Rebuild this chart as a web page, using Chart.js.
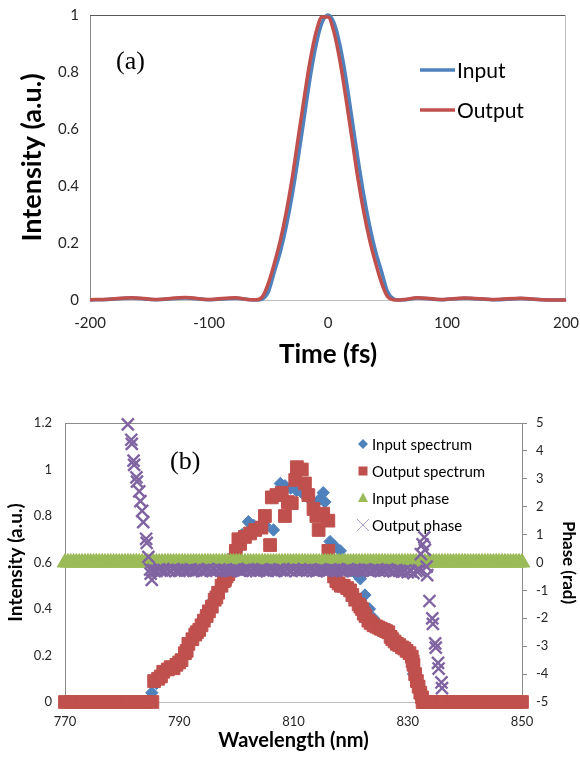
<!DOCTYPE html>
<html>
<head>
<meta charset="utf-8">
<script src="https://cdn.jsdelivr.net/npm/chart.js@4.4.1/dist/chart.umd.min.js"></script>
<style>
  html, body { margin: 0; padding: 0; background: #fff; }
  body { width: 580px; height: 760px; position: relative; overflow: hidden; }
  .box { position: absolute; left: 0; width: 580px; }
  #boxA { top: 0; height: 375px; }
  #boxB { top: 380px; height: 380px; }
</style>
</head>
<body>
<div class="box" id="boxA"><canvas id="pulseChart"></canvas></div>
<div class="box" id="boxB"><canvas id="spectrumChart"></canvas></div>
<script>
/* ================= DATA (a) : pulse in time ================= */
const timeFs = [-200, -185, -165, -145, -120, -100, -78, -65, -60, -55,
  -50, -45, -40, -35, -30, -25, -20, -15, -10, -5,
  0,
  5, 10, 15, 20, 25, 30, 35, 40, 45, 50,
  55, 60, 65, 75, 95, 115, 140, 162, 180, 200];

const inputIntensity = [0, 0.002, 0.007, 0.001, 0.007, 0.001, 0.006, 0.001, 0, 0.004,
  0.03, 0.1, 0.17, 0.26, 0.37, 0.5, 0.64, 0.78, 0.895, 0.973,
  1,
  0.973, 0.895, 0.78, 0.64, 0.5, 0.37, 0.26, 0.17, 0.1, 0.03,
  0.004, 0, 0.001, 0.007, 0.001, 0.006, 0.001, 0.005, 0.001, 0];

const outputIntensity = [0.001, 0.003, 0.008, 0.002, 0.009, 0.002, 0.008, 0.001, 0.001, 0.012,
  0.06, 0.13, 0.21, 0.31, 0.43, 0.57, 0.71, 0.84, 0.94, 0.993,
  0.993,
  0.94, 0.84, 0.71, 0.57, 0.43, 0.31, 0.21, 0.13, 0.06, 0.012,
  0.001, 0, 0.002, 0.008, 0.002, 0.007, 0.002, 0.006, 0.001, 0];

const timeTicks = [-200, -100, 0, 100, 200];

/* ================= DATA (b) : spectrum and phase ================= */
const inWl = [770, 774, 778, 782, 784, 784.8, 785.2, 786, 787, 788,
  789, 790, 791, 792, 793, 794, 795, 796, 797, 798,
  799, 800, 801, 802.1, 803, 804, 805, 806.5, 807, 807.7,
  808.5, 809.5, 810.5, 811.5, 812.5, 813.5, 814.5, 815.2, 815.5, 816.4,
  817.2, 818.2, 819, 820, 821, 821.7, 822.5, 823.3, 824, 825,
  826, 827, 828, 829, 830, 831, 832, 832.5, 834, 838,
  842, 846, 850];
const inSpec = [0, 0, 0, 0, 0, 0.01, 0.04, 0.08, 0.12, 0.15,
  0.16, 0.18, 0.21, 0.26, 0.30, 0.34, 0.39, 0.44, 0.49, 0.54,
  0.60, 0.65, 0.72, 0.775, 0.76, 0.74, 0.76, 0.74, 0.90, 0.94,
  0.93, 0.92, 0.91, 0.90, 0.88, 0.86, 0.87, 0.90, 0.86, 0.69,
  0.67, 0.65, 0.61, 0.58, 0.55, 0.53, 0.46, 0.40, 0.36, 0.33,
  0.31, 0.28, 0.25, 0.23, 0.20, 0.12, 0.04, 0.01, 0, 0,
  0, 0, 0];

const outWl = [770, 771, 772, 773, 774, 775, 776, 777, 778, 779,
  780, 781, 782, 783, 784, 785.3, 785.6, 786.3, 787.2, 788,
  789, 790, 790.4, 791, 791.6, 792.3, 793.1, 793.9, 794.8, 795.7,
  796.2, 796.8, 797.4, 798, 798.6, 799.1, 799.5, 799.9, 800.35, 800.65,
  801.5, 802.4, 803.3, 804.4, 805, 805.9, 806.2, 807, 807.95, 808.5,
  809, 809.7, 810.3, 810.6, 811.45, 812, 812.6, 813.5, 814, 814.4,
  815.2, 816.1, 816.1, 816.6, 817.1, 817.9, 818.8, 819.9, 820.8, 821.4,
  822, 822.6, 823.1, 824, 824.9, 825.8, 826.6, 827.3, 828.1, 829,
  829.8, 830.7, 831, 831.3, 831.6, 831.9, 832.2, 832.5, 832.6, 833,
  834, 835, 836, 837, 838, 839, 840, 841, 842, 843,
  844, 845, 846, 847, 848, 849, 850];
const outSpec = [0, 0, 0, 0, 0, 0, 0, 0, 0, 0,
  0, 0, 0, 0, 0, 0, 0.09, 0.10, 0.13, 0.14,
  0.145, 0.17, 0.18, 0.21, 0.25, 0.27, 0.30, 0.33, 0.37, 0.41,
  0.44, 0.47, 0.50, 0.525, 0.55, 0.58, 0.61, 0.65, 0.70, 0.68,
  0.71, 0.725, 0.74, 0.75, 0.80, 0.675, 0.88, 0.89, 0.90, 0.80,
  0.86, 0.855, 0.955, 1.01, 1.0, 0.94, 0.89, 0.83, 0.80, 0.74,
  0.81, 0.78, 0.65, 0.58, 0.54, 0.51, 0.50, 0.48, 0.44, 0.42,
  0.40, 0.37, 0.35, 0.33, 0.32, 0.31, 0.30, 0.27, 0.25, 0.235,
  0.22, 0.195, 0.16, 0.12, 0.09, 0.066, 0.04, 0.02, 0, 0,
  0, 0, 0, 0, 0, 0, 0, 0, 0, 0,
  0, 0, 0, 0, 0, 0, 0];

// more output-spectrum samples read along the two slopes
const outWlSlopes = [786.8, 788.5, 789.5, 791.3, 792.8, 793.5, 794.3, 795.2, 796.5, 797.8,
  798.3, 817.5, 818.3, 819.4, 820.3, 821.7, 822.3, 823.5, 824.5, 825.3,
  826.2, 827, 827.7, 828.5, 829.4, 830.3, 830.85];
const outSpecSlopes = [0.11, 0.15, 0.16, 0.22, 0.29, 0.31, 0.35, 0.39, 0.45, 0.52,
  0.54, 0.52, 0.50, 0.49, 0.46, 0.41, 0.38, 0.34, 0.325, 0.315,
  0.305, 0.28, 0.26, 0.245, 0.23, 0.21, 0.175];

const inPhaseWl = [770, 770.5, 771, 771.5, 772, 772.5, 773, 773.5, 774, 774.5,
  775, 775.5, 776, 776.5, 777, 777.5, 778, 778.5, 779, 779.5,
  780, 780.5, 781, 781.5, 782, 782.5, 783, 783.5, 784, 784.5,
  785, 785.5, 786, 786.5, 787, 787.5, 788, 788.5, 789, 789.5,
  790, 790.5, 791, 791.5, 792, 792.5, 793, 793.5, 794, 794.5,
  795, 795.5, 796, 796.5, 797, 797.5, 798, 798.5, 799, 799.5,
  800, 800.5, 801, 801.5, 802, 802.5, 803, 803.5, 804, 804.5,
  805, 805.5, 806, 806.5, 807, 807.5, 808, 808.5, 809, 809.5,
  810, 810.5, 811, 811.5, 812, 812.5, 813, 813.5, 814, 814.5,
  815, 815.5, 816, 816.5, 817, 817.5, 818, 818.5, 819, 819.5,
  820, 820.5, 821, 821.5, 822, 822.5, 823, 823.5, 824, 824.5,
  825, 825.5, 826, 826.5, 827, 827.5, 828, 828.5, 829, 829.5,
  830, 830.5, 831, 831.5, 832, 832.5, 833, 833.5, 834, 834.5,
  835, 835.5, 836, 836.5, 837, 837.5, 838, 838.5, 839, 839.5,
  840, 840.5, 841, 841.5, 842, 842.5, 843, 843.5, 844, 844.5,
  845, 845.5, 846, 846.5, 847, 847.5, 848, 848.5, 849, 849.5,
  850];
const inPhase = [0, 0, 0, 0, 0, 0, 0, 0, 0, 0,
  0, 0, 0, 0, 0, 0, 0, 0, 0, 0,
  0, 0, 0, 0, 0, 0, 0, 0, 0, 0,
  0, 0, 0, 0, 0, 0, 0, 0, 0, 0,
  0, 0, 0, 0, 0, 0, 0, 0, 0, 0,
  0, 0, 0, 0, 0, 0, 0, 0, 0, 0,
  0, 0, 0, 0, 0, 0, 0, 0, 0, 0,
  0, 0, 0, 0, 0, 0, 0, 0, 0, 0,
  0, 0, 0, 0, 0, 0, 0, 0, 0, 0,
  0, 0, 0, 0, 0, 0, 0, 0, 0, 0,
  0, 0, 0, 0, 0, 0, 0, 0, 0, 0,
  0, 0, 0, 0, 0, 0, 0, 0, 0, 0,
  0, 0, 0, 0, 0, 0, 0, 0, 0, 0,
  0, 0, 0, 0, 0, 0, 0, 0, 0, 0,
  0, 0, 0, 0, 0, 0, 0, 0, 0, 0,
  0, 0, 0, 0, 0, 0, 0, 0, 0, 0,
  0];

// output phase: steep left wing, flat part, steep right wing
const outPhaseWlLeft = [781.0, 781.6, 781.7, 782.0, 782.1, 782.5, 782.6, 783.0, 783.2, 783.5,
  783.7, 784.2, 784.3, 784.6, 784.9, 785.0, 785.2];
const outPhaseLeft = [4.95, 4.4, 4.25, 3.65, 3.5, 3.05, 2.9, 2.55, 2.2, 1.85,
  1.45, 0.85, 0.7, 0.2, -0.25, -0.4, -0.62];

const outPhaseWlFlat = [785.5, 786, 786.5, 787, 787.5, 788, 788.5, 789, 789.5, 790,
  790.5, 791, 791.5, 792, 792.5, 793, 793.5, 794, 794.5, 795,
  795.5, 796, 796.5, 797, 797.5, 798, 798.5, 799, 799.5, 800,
  800.5, 801, 801.5, 802, 802.5, 803, 803.5, 804, 804.5, 805,
  805.5, 806, 806.5, 807, 807.5, 808, 808.5, 809, 809.5, 810,
  810.5, 811, 811.5, 812, 812.5, 813, 813.5, 814, 814.5, 815,
  815.5, 816, 816.5, 817, 817.5, 818, 818.5, 819, 819.5, 820,
  820.5, 821, 821.5, 822, 822.5, 823, 823.5, 824, 824.5, 825,
  825.5, 826, 826.5, 827, 827.5, 828, 828.5, 829, 829.5, 830,
  830.5, 831, 831.5, 832];
const outPhaseFlat = [-0.27, -0.30, -0.25, -0.28, -0.31, -0.26, -0.29, -0.24, -0.28, -0.30,
  -0.26, -0.29, -0.27, -0.25, -0.30, -0.28, -0.26, -0.31, -0.27, -0.24,
  -0.29, -0.27, -0.30, -0.25, -0.28, -0.26, -0.29, -0.31, -0.27, -0.25,
  -0.28, -0.30, -0.26, -0.24, -0.29, -0.27, -0.31, -0.28, -0.25, -0.27,
  -0.30, -0.26, -0.28, -0.29, -0.25, -0.27, -0.31, -0.26, -0.28, -0.24,
  -0.29, -0.27, -0.30, -0.26, -0.28, -0.25, -0.29, -0.31, -0.27, -0.26,
  -0.28, -0.30, -0.25, -0.27, -0.29, -0.26, -0.31, -0.28, -0.24, -0.27,
  -0.30, -0.28, -0.26, -0.29, -0.25, -0.27, -0.31, -0.28, -0.26, -0.30,
  -0.27, -0.29, -0.25, -0.28, -0.32, -0.27, -0.30, -0.33, -0.29, -0.35,
  -0.31, -0.38, -0.30, -0.28];

const outPhaseWlRight = [832.3, 832.6, 832.9, 833.0, 833.3, 833.4, 833.8, 834.3, 834.4, 834.8,
  834.9, 835.3, 835.4, 835.9, 836.0];
const outPhaseRight = [0.3, 0.65, 0.9, 0.45, -0.15, -0.45, -1.38, -2.0, -2.2, -2.9,
  -3.05, -3.6, -3.8, -4.3, -4.5];

/* ================= STYLE ================= */
const BLUE = "#4F81BD", RED = "#C0504D", GREEN = "#9BBB59", PURPLE = "#8064A2";
const SANS = "Lato, 'Open Sans', sans-serif";
const SERIF = "'Liberation Serif', 'DejaVu Serif', serif";
const TICK_COLOR = "#262626";

Chart.defaults.font.family = SANS;
Chart.defaults.color = TICK_COLOR;

const pts = (xs, ys) => xs.map((x, i) => ({ x, y: ys[i] }));
const shortNum = v => String(Math.round(v * 10) / 10);

/* ================= CHART (a) ================= */
const pulseDecor = {
  id: "pulseDecor",
  beforeDatasetsDraw(chart) {
    const { ctx, chartArea: a } = chart;
    ctx.save();
    ctx.lineWidth = 1;
    ctx.strokeStyle = "#595959";
    ctx.beginPath();
    ctx.moveTo(a.left, a.top + 0.5);
    ctx.lineTo(a.right, a.top + 0.5);
    ctx.stroke();
    ctx.strokeStyle = "#bfbfbf";
    ctx.beginPath();
    ctx.moveTo(a.right - 0.5, a.top);
    ctx.lineTo(a.right - 0.5, a.bottom);
    ctx.stroke();
    ctx.restore();
  },
  afterDraw(chart) {
    const { ctx } = chart;
    ctx.save();
    ctx.fillStyle = "#000";
    ctx.textBaseline = "middle";
    ctx.font = "26px " + SERIF;
    ctx.fillText("(a)", 116, 62);

    // legend
    ctx.font = "21px " + SANS;
    chart.data.datasets.forEach((ds, i) => {
      const y = 70 + i * 40;
      ctx.strokeStyle = ds.borderColor;
      ctx.lineWidth = 3.5;
      ctx.beginPath();
      ctx.moveTo(420, y);
      ctx.lineTo(455, y);
      ctx.stroke();
      ctx.fillStyle = "#000";
      ctx.fillText(ds.label, 457, y + 1);
    });
    ctx.restore();
  }
};

new Chart(document.getElementById("pulseChart"), {
  type: "line",
  data: {
    datasets: [
      { label: "Input", data: pts(timeFs, inputIntensity), borderColor: BLUE, borderWidth: 3.5,
        pointRadius: 0, cubicInterpolationMode: "monotone", clip: false, order: 2 },
      { label: "Output", data: pts(timeFs, outputIntensity), borderColor: RED, borderWidth: 3.5,
        pointRadius: 0, cubicInterpolationMode: "monotone", clip: false, order: 1 }
    ]
  },
  options: {
    responsive: true,
    maintainAspectRatio: false,
    animation: false,
    events: [],
    layout: { padding: { top: 15, right: 14, left: 0, bottom: 0 } },
    plugins: { legend: { display: false }, tooltip: { enabled: false } },
    scales: {
      x: {
        type: "linear", min: -200, max: 200,
        afterBuildTicks: s => { s.ticks = timeTicks.map(v => ({ value: v })); },
        ticks: { font: { size: 15 }, color: TICK_COLOR, padding: 14 },
        grid: { display: false, drawTicks: false },
        border: { display: true, color: "#bfbfbf" },
        title: { display: true, text: "Time (fs)", color: "#000",
          font: { size: 26, weight: "bold" }, padding: { top: 0, bottom: 5 } },
        afterFit: s => { s.height = 75; s.paddingLeft = 0; s.paddingRight = 0; }
      },
      y: {
        min: 0, max: 1,
        ticks: { stepSize: 0.2, font: { size: 15 }, color: TICK_COLOR, padding: 11, callback: shortNum },
        grid: { display: false, drawTicks: false },
        border: { display: true, color: "#8c8c8c" },
        title: { display: true, text: "Intensity (a.u.)", color: "#000",
          font: { size: 27, weight: "bold" }, padding: { top: 16, bottom: 0 } },
        afterFit: s => { s.width = 90; s.paddingTop = 0; s.paddingBottom = 0; }
      }
    }
  },
  plugins: [pulseDecor]
});

/* ================= CHART (b) ================= */
function drawMarker(ctx, kind, x, y, color) {
  ctx.save();
  ctx.fillStyle = color;
  ctx.strokeStyle = color;
  ctx.beginPath();
  if (kind === "diamond") {
    ctx.moveTo(x, y - 5); ctx.lineTo(x + 5, y); ctx.lineTo(x, y + 5); ctx.lineTo(x - 5, y);
    ctx.closePath(); ctx.fill();
  } else if (kind === "square") {
    ctx.fillRect(x - 4.5, y - 4.5, 9, 9);
  } else if (kind === "triangle") {
    ctx.moveTo(x, y - 5.5); ctx.lineTo(x + 5, y + 4); ctx.lineTo(x - 5, y + 4);
    ctx.closePath(); ctx.fill();
  } else {
    ctx.lineWidth = 1;
    ctx.moveTo(x - 6, y - 6); ctx.lineTo(x + 6, y + 6);
    ctx.moveTo(x + 6, y - 6); ctx.lineTo(x - 6, y + 6);
    ctx.stroke();
  }
  ctx.restore();
}

const legendB = [
  { text: "Input spectrum", kind: "diamond", color: BLUE },
  { text: "Output spectrum", kind: "square", color: RED },
  { text: "Input phase", kind: "triangle", color: GREEN },
  { text: "Output phase", kind: "cross", color: "#b3a2c7" }
];

const spectrumDecor = {
  id: "spectrumDecor",
  beforeDatasetsDraw(chart) {
    const { ctx, chartArea: a } = chart;
    ctx.save();
    ctx.lineWidth = 1;
    ctx.strokeStyle = "#8c8c8c";
    ctx.beginPath();
    ctx.moveTo(a.left, a.top + 0.5);
    ctx.lineTo(a.right, a.top + 0.5);
    ctx.stroke();
    ctx.restore();
  },
  afterDraw(chart) {
    const { ctx } = chart;
    ctx.save();
    ctx.fillStyle = "#000";
    ctx.textBaseline = "middle";
    ctx.font = "26px " + SERIF;
    ctx.fillText("(b)", 170, 82);

    ctx.font = "15px " + SANS;
    legendB.forEach((item, i) => {
      const y = 64 + i * 27;
      drawMarker(ctx, item.kind, 363, y, item.color);
      ctx.fillStyle = "#000";
      ctx.fillText(item.text, 372, y + 1);
    });
    ctx.restore();
  }
};

new Chart(document.getElementById("spectrumChart"), {
  type: "scatter",
  data: {
    datasets: [
      { label: "Input spectrum", data: pts(inWl, inSpec), yAxisID: "y",
        pointStyle: "rectRot", pointRadius: 6.2, pointBackgroundColor: BLUE,
        pointBorderColor: BLUE, pointBorderWidth: 1, clip: false, order: 4 },
      { label: "Output spectrum",
        data: pts(outWl.concat(outWlSlopes), outSpec.concat(outSpecSlopes)), yAxisID: "y",
        pointStyle: "rect", pointRadius: 9, pointBackgroundColor: RED,
        pointBorderColor: RED, pointBorderWidth: 1, clip: false, order: 3 },
      { label: "Input phase", data: pts(inPhaseWl, inPhase), yAxisID: "y1",
        pointStyle: "triangle", pointRadius: 9, pointBackgroundColor: GREEN,
        pointBorderColor: GREEN, pointBorderWidth: 1, clip: false, order: 2 },
      { label: "Output phase",
        data: pts(outPhaseWlLeft.concat(outPhaseWlFlat, outPhaseWlRight),
                  outPhaseLeft.concat(outPhaseFlat, outPhaseRight)),
        yAxisID: "y1", pointStyle: "crossRot", pointRadius: 8.5,
        pointBorderColor: PURPLE, pointBorderWidth: 2.4, clip: false, order: 1 }
    ]
  },
  options: {
    responsive: true,
    maintainAspectRatio: false,
    animation: false,
    events: [],
    layout: { padding: { top: 43, right: 0, left: 0, bottom: 0 } },
    plugins: { legend: { display: false }, tooltip: { enabled: false } },
    scales: {
      x: {
        type: "linear", min: 770, max: 850,
        ticks: { stepSize: 20, font: { size: 13 }, color: TICK_COLOR, padding: 12 },
        grid: { display: false, drawTicks: false },
        border: { display: true, color: "#bfbfbf" },
        title: { display: true, text: "Wavelength (nm)", color: "#000",
          font: { size: 20, weight: "bold" }, padding: { top: 0, bottom: 7 } },
        afterFit: s => { s.height = 58; s.paddingLeft = 0; s.paddingRight = 0; }
      },
      y: {
        position: "left", min: 0, max: 1.2,
        ticks: { stepSize: 0.2, font: { size: 13 }, color: TICK_COLOR, padding: 13, callback: shortNum },
        grid: { display: false, drawTicks: false },
        border: { display: true, color: "#8c8c8c" },
        title: { display: true, text: "Intensity (a.u.)", color: "#000",
          font: { size: 19, weight: "bold" }, padding: { top: 4, bottom: 0 } },
        afterFit: s => { s.width = 65; s.paddingTop = 0; s.paddingBottom = 0; }
      },
      y1: {
        position: "right", min: -5, max: 5,
        ticks: { stepSize: 1, font: { size: 13 }, color: TICK_COLOR, padding: 9 },
        grid: { display: true, drawOnChartArea: false, drawTicks: true, tickLength: 5, color: "#8c8c8c" },
        border: { display: true, color: "#8c8c8c" },
        title: { display: true, text: "Phase (rad)", color: "#000",
          font: { size: 17, weight: "bold" }, padding: { top: 1, bottom: 0 } },
        afterFit: s => { s.width = 58; s.paddingTop = 0; s.paddingBottom = 0; }
      }
    }
  },
  plugins: [spectrumDecor]
});
</script>
</body>
</html>
